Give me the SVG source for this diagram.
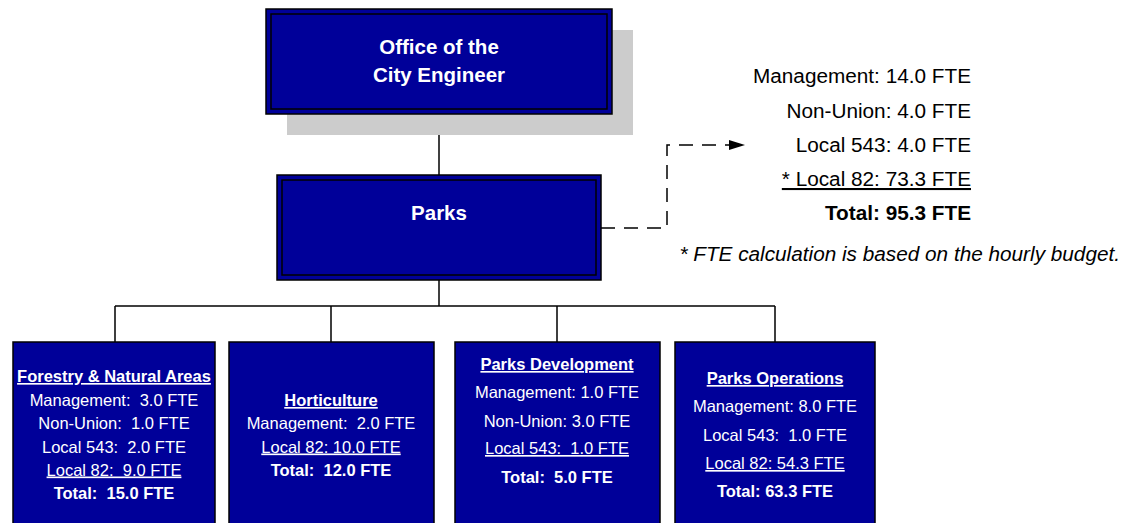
<svg xmlns="http://www.w3.org/2000/svg" width="1126" height="523" viewBox="0 0 1126 523">
  <style>
    text { font-family: "Liberation Sans", Arial, sans-serif; white-space: pre; }
    .box { fill: #000099; stroke: #000; stroke-width: 1.5; }
    .inner { fill: none; stroke: #000; stroke-width: 1.5; }
    .head { fill: #fff; font-weight: bold; font-size: 20.5px; text-anchor: middle; }
    .unit { fill: #fff; font-size: 16.5px; text-anchor: middle; }
    .t { font-weight: bold; }
    .u { text-decoration: underline; }
    .sum { fill: #000; font-size: 20.75px; text-anchor: end; }
    .wire { fill: none; stroke: #000; stroke-width: 1.5; }
    .dash { fill: none; stroke: #000; stroke-width: 1.5; stroke-dasharray: 14 9; }
  </style>
  <defs>
    <marker id="arrow" markerUnits="userSpaceOnUse" markerWidth="16" markerHeight="10" refX="16" refY="5" orient="auto">
      <path d="M0,0 L16,5 L0,10 Z" fill="#000"/>
    </marker>
  </defs>

  <rect width="1126" height="523" fill="#fff"/>

  <!-- connectors -->
  <g id="connectors">
    <path class="wire" d="M439,114 V175"/>
    <path class="wire" d="M439,280 V306"/>
    <path class="wire" d="M115,306 H775"/>
    <path class="wire" d="M115,306 V342 M331,306 V342 M557,306 V342 M775,306 V342"/>
    <path class="dash" d="M601,228 H667 V145 H745" marker-end="url(#arrow)"/>
  </g>

  <!-- Office of the City Engineer -->
  <g id="city-engineer">
    <rect x="287" y="30" width="346" height="105" fill="#cccccc"/>
    <rect class="box" x="266" y="9" width="346" height="105" stroke-width="2"/>
    <rect class="inner" x="271" y="14" width="336" height="95"/>
    <text class="head" x="439" y="54">Office of the</text>
    <text class="head" x="439" y="82">City Engineer</text>
  </g>

  <!-- Parks -->
  <g id="parks">
    <rect class="box" x="277" y="175" width="324" height="105" stroke-width="2"/>
    <rect class="inner" x="282" y="180" width="314" height="95"/>
    <text class="head" x="439" y="220">Parks</text>
  </g>

  <!-- staffing summary -->
  <g id="summary">
    <text class="sum" x="971" y="83">Management: 14.0 FTE</text>
    <text class="sum" x="971" y="118">Non-Union: 4.0 FTE</text>
    <text class="sum" x="971" y="152">Local 543: 4.0 FTE</text>
    <text class="sum u" x="971" y="186">* Local 82: 73.3 FTE</text>
    <text class="sum t" x="971" y="220">Total: 95.3 FTE</text>
    <text class="sum" x="1120" y="261" font-style="italic">* FTE calculation is based on the hourly budget.</text>
  </g>

  <!-- Forestry & Natural Areas -->
  <g id="forestry">
    <rect class="box" x="13" y="342" width="202" height="190"/>
    <text class="unit t u" x="114" y="382">Forestry &amp; Natural Areas</text>
    <text class="unit" x="114" y="406">Management:  3.0 FTE</text>
    <text class="unit" x="114" y="429">Non-Union:  1.0 FTE</text>
    <text class="unit" x="114" y="452.5">Local 543:  2.0 FTE</text>
    <text class="unit u" x="114" y="475.5">Local 82:  9.0 FTE</text>
    <text class="unit t" x="114" y="499">Total:  15.0 FTE</text>
  </g>

  <!-- Horticulture -->
  <g id="horticulture">
    <rect class="box" x="229" y="342" width="205" height="190"/>
    <text class="unit t u" x="331" y="406">Horticulture</text>
    <text class="unit" x="331" y="429">Management:  2.0 FTE</text>
    <text class="unit u" x="331" y="452.5">Local 82: 10.0 FTE</text>
    <text class="unit t" x="331" y="475.5">Total:  12.0 FTE</text>
  </g>

  <!-- Parks Development -->
  <g id="parks-development">
    <rect class="box" x="455" y="342" width="205" height="190"/>
    <text class="unit t u" x="557" y="370">Parks Development</text>
    <text class="unit" x="557" y="398">Management: 1.0 FTE</text>
    <text class="unit" x="557" y="426.5">Non-Union: 3.0 FTE</text>
    <text class="unit u" x="557" y="454">Local 543:  1.0 FTE</text>
    <text class="unit t" x="557" y="482.5">Total:  5.0 FTE</text>
  </g>

  <!-- Parks Operations -->
  <g id="parks-operations">
    <rect class="box" x="675" y="342" width="200" height="190"/>
    <text class="unit t u" x="775" y="384">Parks Operations</text>
    <text class="unit" x="775" y="412">Management: 8.0 FTE</text>
    <text class="unit" x="775" y="440.5">Local 543:  1.0 FTE</text>
    <text class="unit u" x="775" y="469">Local 82: 54.3 FTE</text>
    <text class="unit t" x="775" y="497">Total: 63.3 FTE</text>
  </g>
</svg>
